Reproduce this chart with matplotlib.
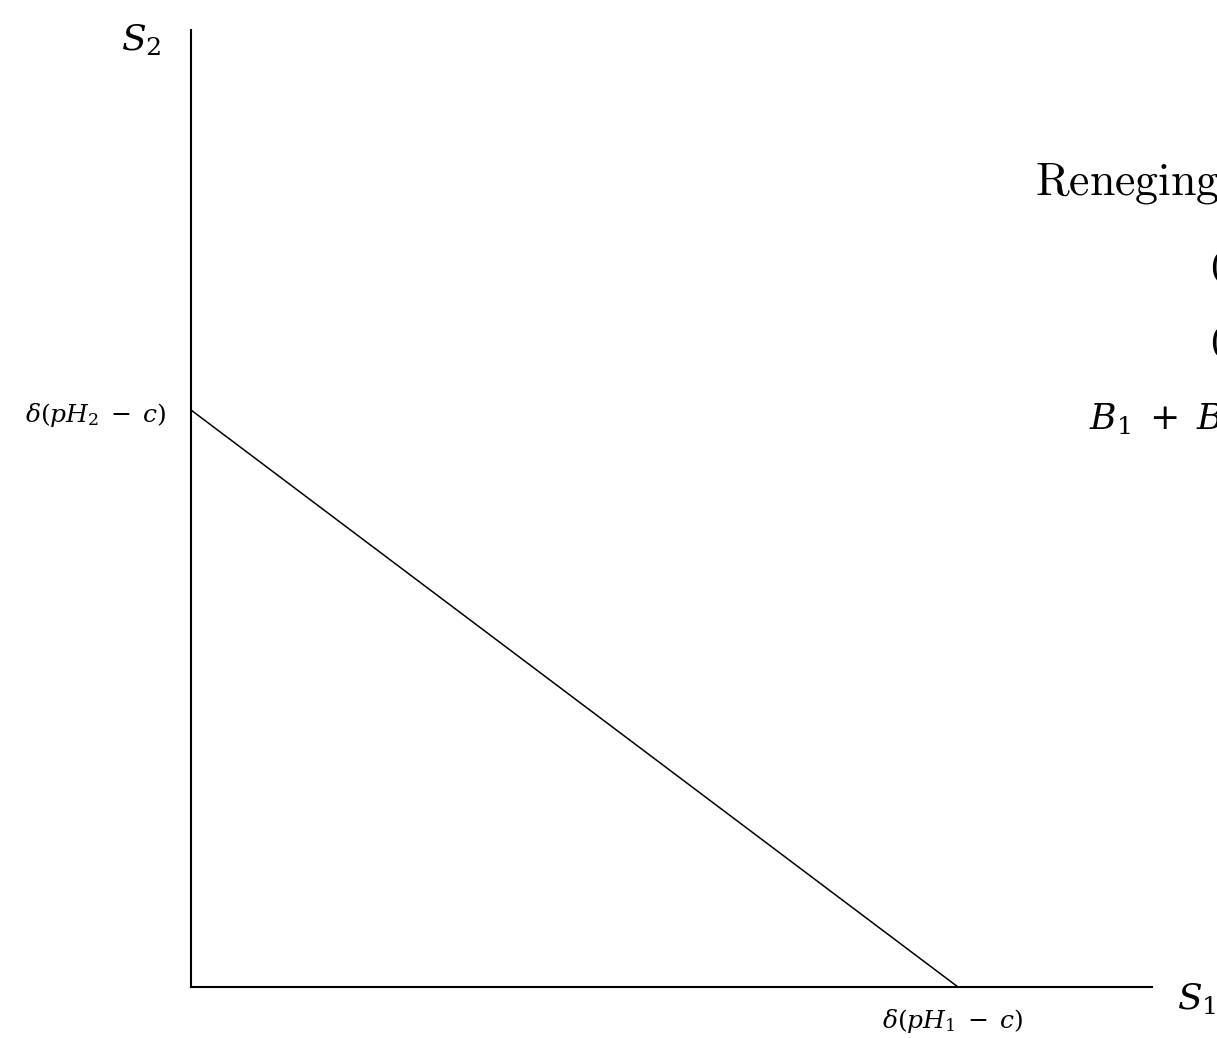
import matplotlib
matplotlib.use("Agg")
import matplotlib.pyplot as plt

# wide serif math, close to an equation-editor look
plt.rcParams['mathtext.fontset'] = 'custom'
plt.rcParams['mathtext.rm'] = 'DejaVu Serif'
plt.rcParams['mathtext.it'] = 'DejaVu Serif:italic'
plt.rcParams['mathtext.bf'] = 'DejaVu Serif:bold'

# intercepts of the constraint line and extent of the axes (arbitrary units)
x_intercept = 7.67
y_intercept = 5.77
x_max = 9.61
y_max = 9.57

line_x = [0, x_intercept]
line_y = [y_intercept, 0]

fig = plt.figure(figsize=(12.17, 10.38), dpi=100)
ax = fig.add_axes([191 / 1217, 51 / 1038, 961 / 1217, 957 / 1038])
ax.set_xlim(0, x_max)
ax.set_ylim(0, y_max)

for side in ['top', 'right']:
    ax.spines[side].set_visible(False)
for side in ['left', 'bottom']:
    ax.spines[side].set_linewidth(1.5)
ax.set_xticks([])
ax.set_yticks([])

ax.plot(line_x, line_y, color='black', lw=1.1, clip_on=False)

# axis names
ax.text(-0.5, y_max - 0.1, r'$S_2$', fontsize=26, ha='center', va='center')
ax.text(x_max + 0.25, -0.12, r'$S_1$', fontsize=26, ha='left', va='center')

# intercept labels
ax.text(-0.24, y_intercept - 0.05, r'$\delta(pH_2\;-\;c)$', fontsize=18,
        ha='right', va='center')
ax.text(x_intercept - 0.05, -0.34, r'$\delta(pH_1\;-\;c)$', fontsize=18,
        ha='center', va='center')

# constraint annotation
ax.text(8.44, 8.04, r'$\mathrm{Reneging\ Constraint}$', fontsize=33,
        ha='left', va='center', math_fontfamily='cm')
ax.text(10.18, 7.2, r'$(\mathrm{IC})$', fontsize=26, ha='left', va='center')
ax.text(10.18, 6.45, r'$(\mathrm{RC})$', fontsize=26, ha='left', va='center')
ax.text(8.98, 5.68, r'$B_1\;+\;B_2\;\geq\;S_1\;+\;S_2$', fontsize=26,
        ha='left', va='center')

fig.savefig('out.png', dpi=100)
